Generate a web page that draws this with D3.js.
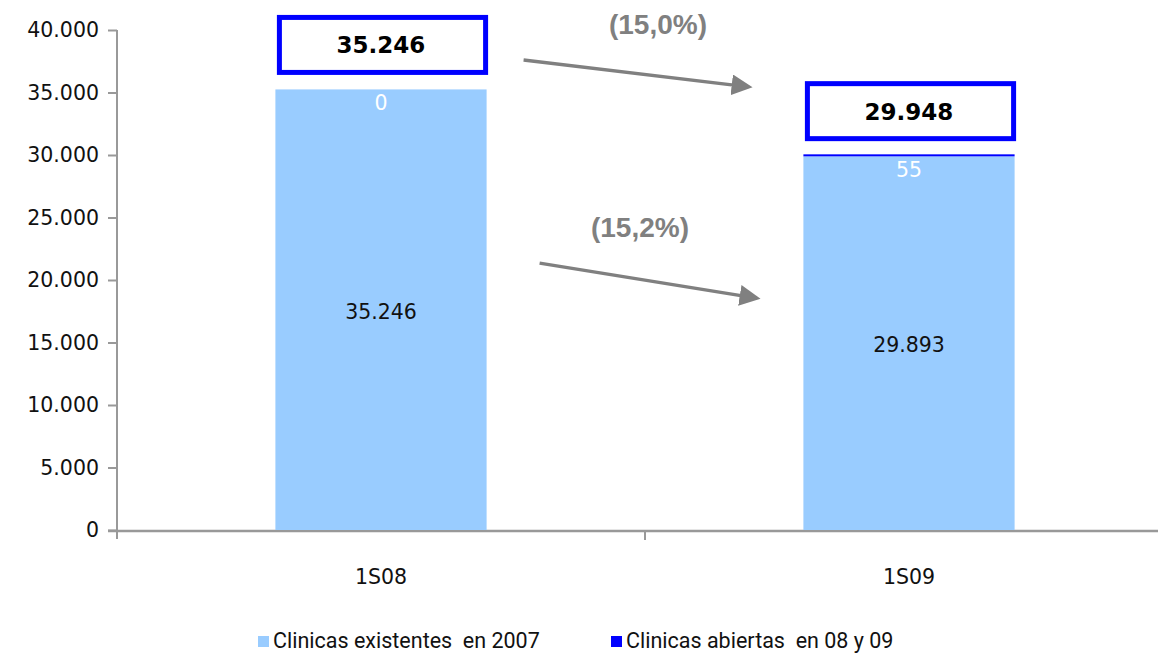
<!DOCTYPE html>
<html>
<head>
<meta charset="utf-8">
<script src="https://cdn.jsdelivr.net/npm/d3@7"></script>
<style>
  body { margin: 0; background: #fff; }
  svg { display: block; }
</style>
</head>
<body>
<svg id="chart"></svg>
<script>
// data
var categories = ["1S08", "1S09"];
var existentes = [35246, 29893];   // Clinicas existentes en 2007
var abiertas = [0, 55];            // Clinicas abiertas en 08 y 09
var yTicks = [0, 5000, 10000, 15000, 20000, 25000, 30000, 35000, 40000];
var seriesNames = ["Clinicas existentes  en 2007", "Clinicas abiertas  en 08 y 09"];
var seriesColors = ["#99CCFF", "#0000FF"];
var changeLabels = ["(15,0%)", "(15,2%)"];
// arrow ends in value space: [from, to]
var arrowLevels = [[37600, 35450], [21350, 18550]];

var width = 1158, height = 653;
var svg = d3.select("#chart").attr("width", width).attr("height", height);

var fmt = function (v) { return d3.format(",")(v).replace(/,/g, "."); };
var mainFont = "DejaVu Sans, Verdana";

var x = d3.scaleBand().domain(categories).range([117, 1173]).padding(0);
var y = d3.scaleLinear().domain([0, 40000]).range([530, 30]);
var bw = x.bandwidth() * 0.4;
function barX(c) { return x(c) + (x.bandwidth() - bw) / 2; }

var totals = existentes.map(function (v, i) { return v + abiertas[i]; });

// axes
var yAxis = svg.append("g")
  .attr("transform", "translate(117,0)")
  .call(d3.axisLeft(y).tickValues(yTicks).tickSize(9).tickPadding(9).tickFormat(fmt));
yAxis.selectAll("text").style("font-family", mainFont).style("font-size", "20.5px").attr("fill", "#111");
yAxis.selectAll("line").attr("stroke", "#999").attr("stroke-width", 2);
yAxis.select(".domain").attr("stroke", "#999").attr("stroke-width", 2).attr("d", "M0,30V539");

var xAxis = svg.append("g").attr("transform", "translate(0,531)");
xAxis.append("line").attr("x1", 108).attr("x2", 1173).attr("stroke", "#999").attr("stroke-width", 2.5);
xAxis.selectAll(".tk").data(categories.slice(1)).enter().append("line")
  .attr("x1", function (d) { return x(d); }).attr("x2", function (d) { return x(d); })
  .attr("y1", 0).attr("y2", 9).attr("stroke", "#999").attr("stroke-width", 2);
xAxis.selectAll(".lab").data(categories).enter().append("text")
  .attr("x", function (d) { return x(d) + x.bandwidth() / 2; })
  .attr("y", 53)
  .attr("text-anchor", "middle")
  .style("font-family", mainFont).style("font-size", "20.5px").attr("fill", "#111")
  .text(function (d) { return d; });

// stacked bars
function topH(i) { return Math.max(y(0) - y(abiertas[i]), abiertas[i] > 0 ? 2 : 0); }

svg.selectAll(".bar0").data(categories).enter().append("rect")
  .attr("x", function (d) { return barX(d); })
  .attr("width", bw)
  .attr("y", function (d, i) { return y(existentes[i]); })
  .attr("height", function (d, i) { return y(0) - y(existentes[i]); })
  .attr("fill", seriesColors[0]);

svg.selectAll(".bar1").data(categories).enter().append("rect")
  .attr("x", function (d) { return barX(d); })
  .attr("width", bw)
  .attr("y", function (d, i) { return y(existentes[i]) - topH(i); })
  .attr("height", function (d, i) { return topH(i); })
  .attr("fill", seriesColors[1]);

// value labels
svg.selectAll(".v0").data(categories).enter().append("text")
  .attr("x", function (d) { return barX(d) + bw / 2; })
  .attr("y", function (d, i) { return (y(0) + y(existentes[i])) / 2 + 9; })
  .attr("text-anchor", "middle")
  .style("font-family", mainFont).style("font-size", "20.5px").attr("fill", "#111")
  .text(function (d, i) { return fmt(existentes[i]); });

svg.selectAll(".v1").data(categories).enter().append("text")
  .attr("x", function (d) { return barX(d) + bw / 2; })
  .attr("y", function (d, i) { return y(totals[i]) + 21; })
  .attr("text-anchor", "middle")
  .style("font-family", mainFont).style("font-size", "20.5px").attr("fill", "#fff")
  .text(function (d, i) { return fmt(abiertas[i]); });

// total boxes
var boxes = svg.selectAll(".box").data(categories).enter().append("g");
boxes.append("rect")
  .attr("x", function (d) { return barX(d) + 4; })
  .attr("y", function (d, i) { return y(totals[i]) - 72; })
  .attr("width", bw - 5)
  .attr("height", 55)
  .attr("fill", "#fff")
  .attr("stroke", "#0000FF")
  .attr("stroke-width", 5);
boxes.append("text")
  .attr("x", function (d) { return barX(d) + bw / 2; })
  .attr("y", function (d, i) { return y(totals[i]) - 36; })
  .attr("text-anchor", "middle")
  .style("font-family", mainFont).style("font-size", "23px").style("font-weight", "bold").attr("fill", "#000")
  .text(function (d, i) { return fmt(totals[i]); });

// change arrows
svg.append("defs").append("marker")
  .attr("id", "head").attr("viewBox", "0 0 10 10").attr("refX", 8).attr("refY", 5)
  .attr("markerWidth", 6).attr("markerHeight", 6).attr("orient", "auto")
  .append("path").attr("d", "M0,0L10,5L0,10Z").attr("fill", "#808080");

var x0 = barX(categories[0]) + bw, x1 = barX(categories[1]);
var arrowStart = [x0 + 37, x0 + 53], arrowEnd = [x1 - 55, x1 - 47];
var labelShift = [22, -8];
arrowLevels.forEach(function (lv, i) {
  svg.append("line")
    .attr("x1", arrowStart[i]).attr("y1", y(lv[0]))
    .attr("x2", arrowEnd[i]).attr("y2", y(lv[1]))
    .attr("stroke", "#808080").attr("stroke-width", 3.5)
    .attr("marker-end", "url(#head)");
  svg.append("text")
    .attr("x", (arrowStart[i] + arrowEnd[i]) / 2 + labelShift[i])
    .attr("y", y(lv[0]) - 26)
    .attr("text-anchor", "middle")
    .style("font-family", "Liberation Sans, Arial").style("font-size", "28px").style("font-weight", "bold")
    .attr("fill", "#808080")
    .text(changeLabels[i]);
});

// legend
var legendX = [258, 611];
var legend = svg.selectAll(".legend").data(seriesNames).enter().append("g")
  .attr("transform", function (d, i) { return "translate(" + legendX[i] + ",633)"; });
legend.append("rect").attr("width", 11).attr("height", 11).attr("y", 3)
  .attr("fill", function (d, i) { return seriesColors[i]; });
legend.append("text").attr("x", 15).attr("y", 15)
  .style("font-family", "Liberation Sans Narrow, Roboto, Arial").style("font-size", "21.5px").attr("fill", "#111")
  .style("white-space", "pre")
  .text(function (d) { return d; });
</script>
</body>
</html>
